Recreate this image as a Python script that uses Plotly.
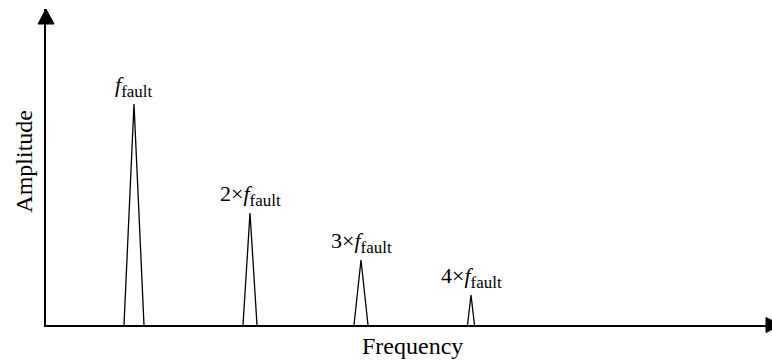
import plotly.graph_objects as go

# Spectrum peaks: fundamental fault frequency and its harmonics
peak_centers = [88, 204, 315, 425]      # frequency position of each peak
peak_halfwidths = [10, 7, 7, 3.5]       # half width of each peak at the base
peak_heights = [221, 112, 65, 30]       # amplitude of each peak
peak_labels = ["<i>f</i><sub><span style='font-size:17px'>fault</span></sub>",
               "2×<i>f</i><sub><span style='font-size:17px'>fault</span></sub>",
               "3×<i>f</i><sub><span style='font-size:17px'>fault</span></sub>",
               "4×<i>f</i><sub><span style='font-size:17px'>fault</span></sub>"]

x_max = 726
y_max = 316

xs, ys = [], []
for c, hw, h in zip(peak_centers, peak_halfwidths, peak_heights):
    xs += [c - hw, c, c + hw, None]
    ys += [0, h, 0, None]

fig = go.Figure()
fig.add_trace(go.Scatter(x=xs, y=ys, mode="lines",
                         line=dict(color="black", width=1.3),
                         hoverinfo="skip", showlegend=False))

label_font = dict(family="Liberation Serif, serif", size=22, color="black")
for c, h, t in zip(peak_centers, peak_heights, peak_labels):
    fig.add_annotation(x=c, y=h, text=t, showarrow=False, yanchor="bottom",
                       xanchor="center", yshift=1, font=label_font)

# Arrowheads at the ends of both axes (paper coordinates, 1 px = 1/726 x, 1/316 y)
px_x = 1.0 / 726
px_y = 1.0 / 316
fig.add_shape(type="path", xref="paper", yref="paper",
              path=f"M {-8*px_x},{1 - 15*px_y} L {8*px_x},{1 - 15*px_y} L 0,1 Z",
              fillcolor="black", line=dict(color="black", width=1))
fig.add_shape(type="path", xref="paper", yref="paper",
              path=f"M {1 - 6*px_x},{-7.5*px_y} L {1 - 6*px_x},{7.5*px_y} L {1 + 9*px_x},0 Z",
              fillcolor="black", line=dict(color="black", width=1))

title_font = dict(family="Liberation Serif, Times New Roman, serif", size=24, color="black")
fig.add_annotation(x=-0.0303, y=0.517, xref="paper", yref="paper", text="Amplitude",
                   showarrow=False, textangle=-90, xanchor="center", yanchor="middle",
                   font=title_font)
fig.add_annotation(x=0.505, y=-0.066, xref="paper", yref="paper", text="Frequency",
                   showarrow=False, xanchor="center", yanchor="middle", font=title_font)

fig.update_xaxes(range=[0, x_max], showgrid=False, zeroline=False, showticklabels=False,
                 ticks="", showline=True, linecolor="black", linewidth=1.5)
fig.update_yaxes(range=[0, y_max], showgrid=False, zeroline=False, showticklabels=False,
                 ticks="", showline=True, linecolor="black", linewidth=1.5)

fig.update_layout(width=772, height=363, margin=dict(l=46, r=0, t=9, b=38),
                  plot_bgcolor="white", paper_bgcolor="white")

fig.write_html("out.html")
